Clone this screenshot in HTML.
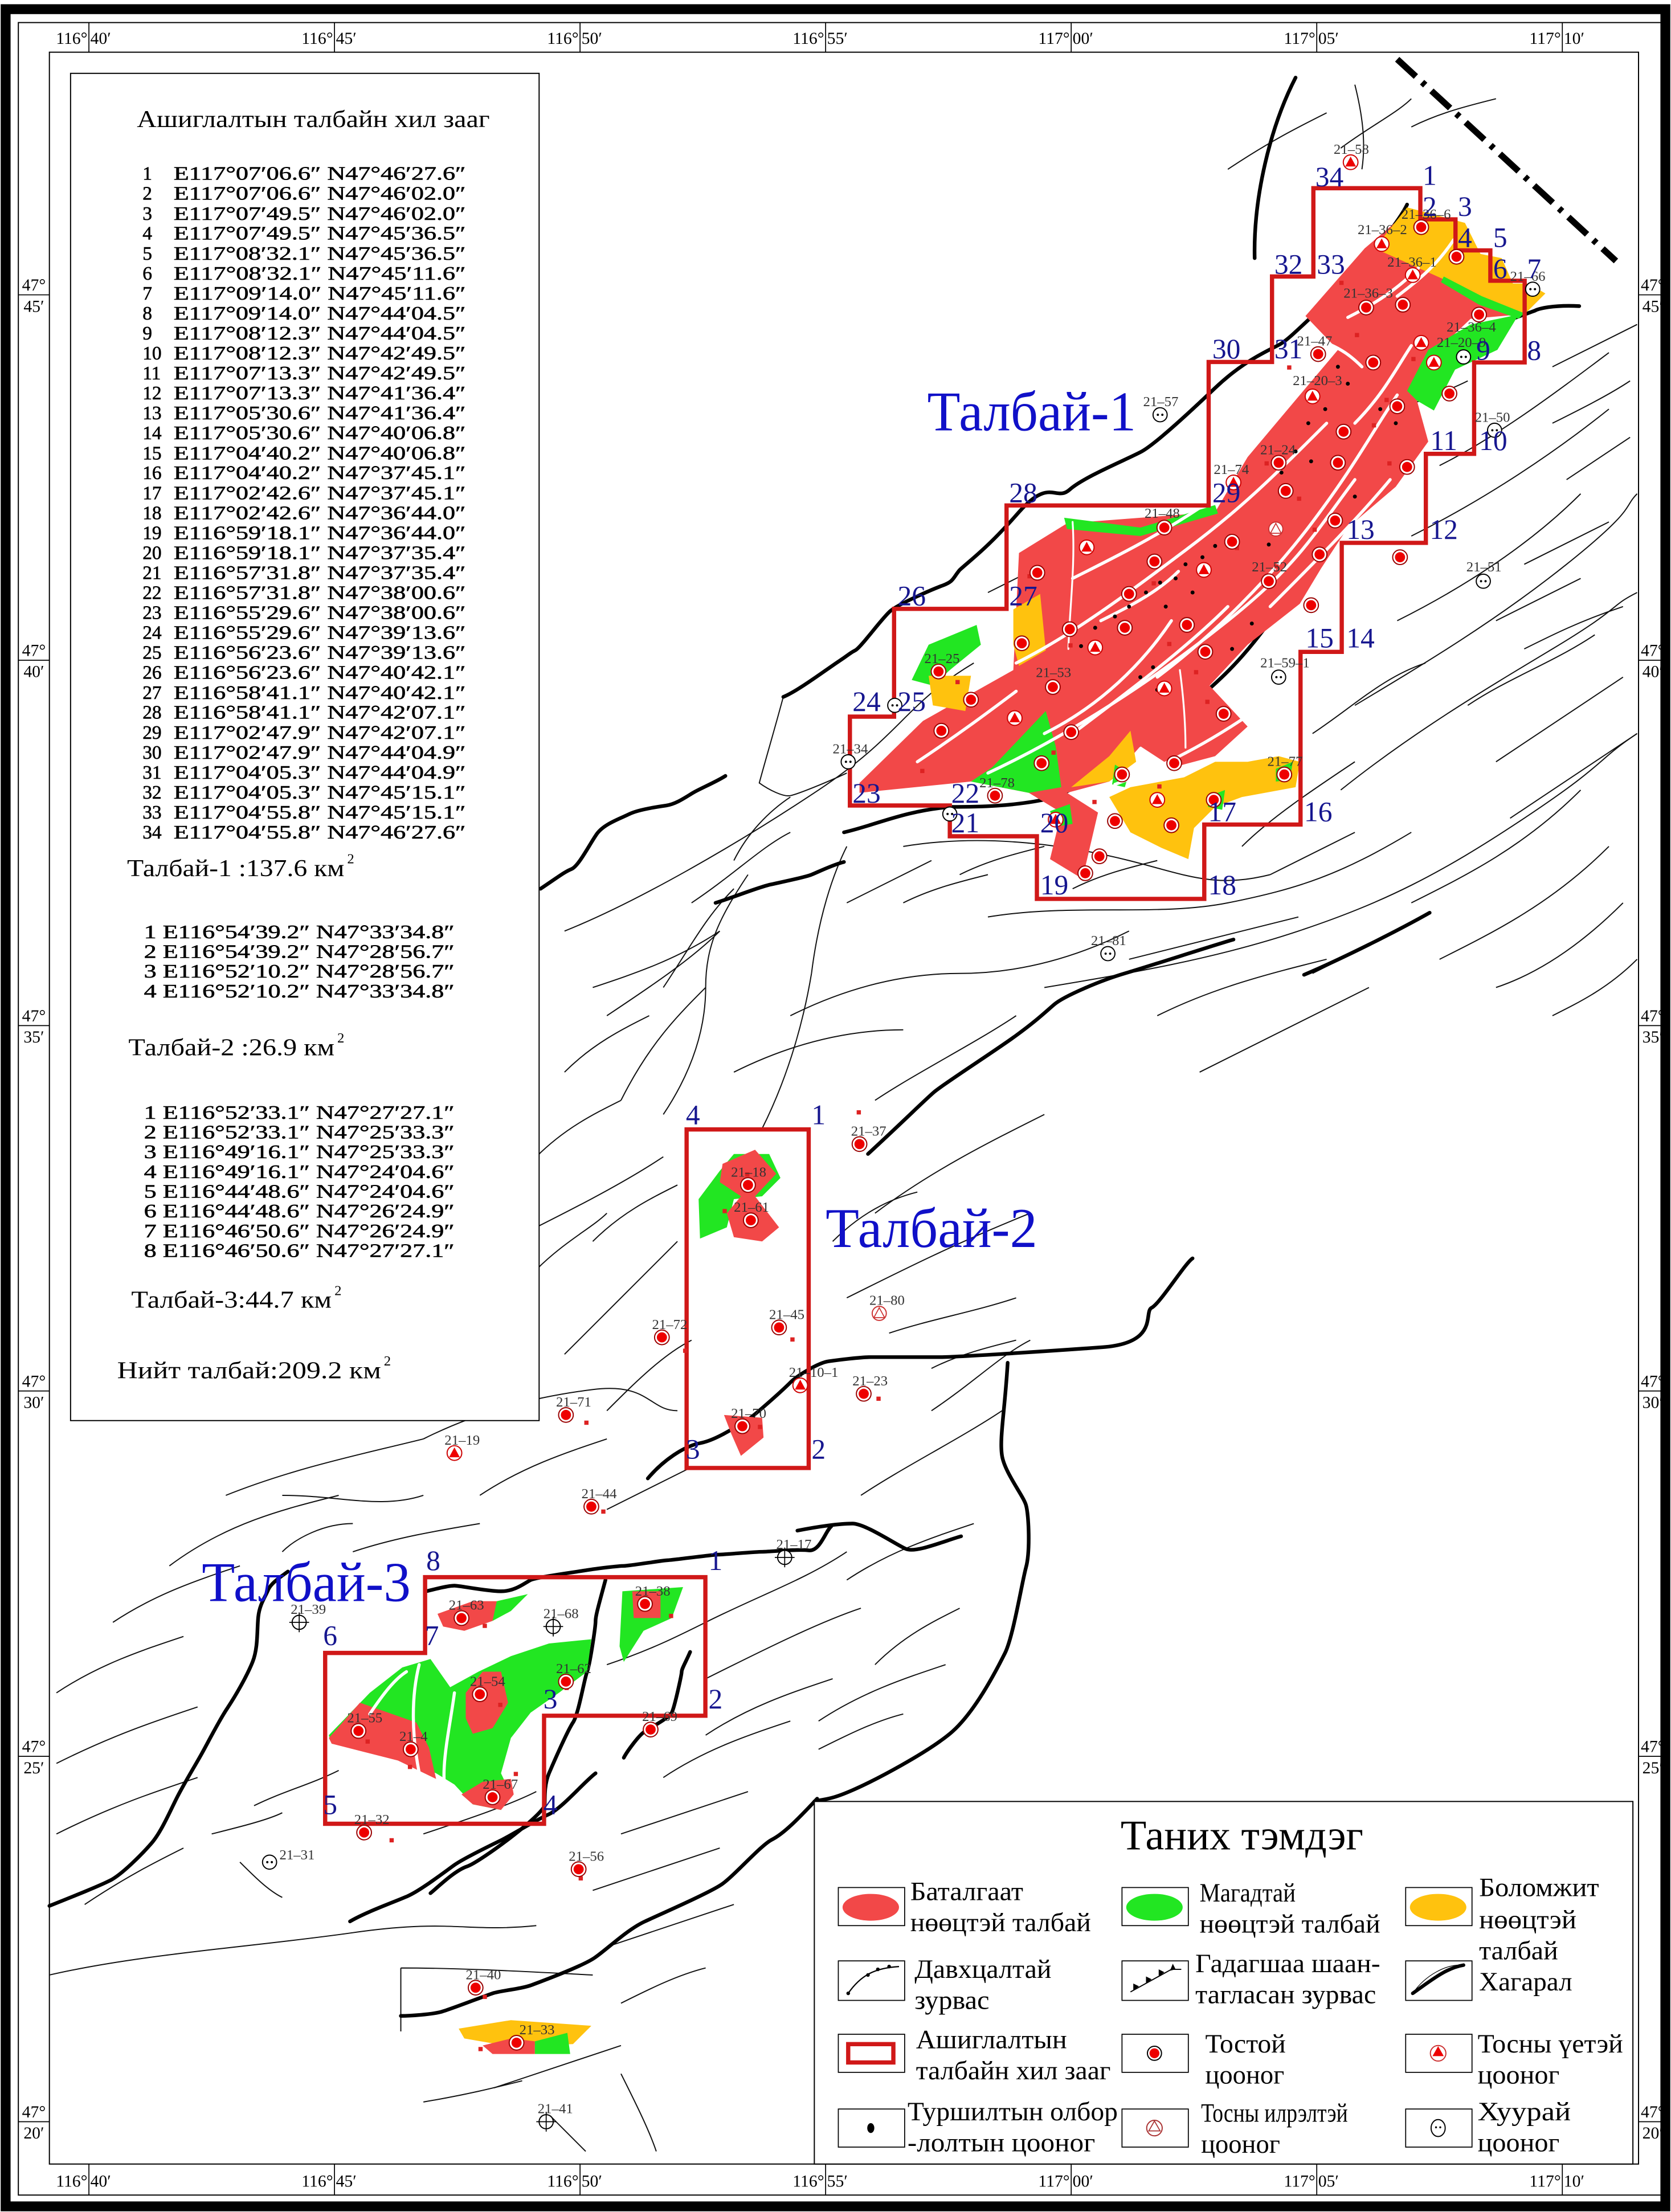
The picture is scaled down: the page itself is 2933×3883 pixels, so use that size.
<!DOCTYPE html>
<html><head><meta charset="utf-8"><style>
html,body{margin:0;padding:0;background:#fff}
svg{display:block}
text{font-family:"Liberation Serif",serif}
.vn{fill:#16168f;font-size:20px;text-anchor:middle}
.wl{fill:#333;font-size:10px}
.tk{font-size:12px;fill:#000}
.tb{font-size:13.5px;fill:#000;stroke:#000;stroke-width:.25}
.lg{font-size:19px;fill:#000}
.th{fill:none;stroke:#111;stroke-width:.8}
.bk{fill:none;stroke:#000;stroke-width:2.6;stroke-linejoin:round;stroke-linecap:round}
.wf{fill:none;stroke:#fff;stroke-width:2.2;stroke-linecap:round}
</style></head><body>
<svg width="2933" height="3883" viewBox="0 0 1184 1568" preserveAspectRatio="none" xmlns="http://www.w3.org/2000/svg">
<defs>
<g id="wo"><circle r="5.2" fill="#fff" stroke="#900" stroke-width=".8"/><circle r="3.6" fill="#e00"/></g>
<g id="wt"><circle r="5.2" fill="#fff" stroke="#c00" stroke-width=".8"/><path d="M0,-4 L3.8,3 L-3.8,3Z" fill="#e00"/></g>
<g id="wh"><circle r="5" fill="#fff" stroke="#000" stroke-width=".8"/><circle cx="-1.6" r=".8"/><circle cx="1.6" r=".8"/></g>
<g id="wx"><circle r="5" fill="#fff" stroke="#000" stroke-width=".8"/><path d="M-7,0H7M0,-7V7" stroke="#000" stroke-width=".7"/></g>
<g id="wa"><circle r="5" fill="#fff" stroke="#c33" stroke-width=".8"/><path d="M0,-4 L3.8,3 L-3.8,3Z" fill="none" stroke="#c33" stroke-width=".7"/></g>
</defs>

<rect x="4" y="6.5" width="1176" height="1557.5" fill="none" stroke="#000" stroke-width="7"/>
<rect x="13" y="16" width="1169" height="1540" fill="none" stroke="#000" stroke-width=".8"/>
<rect x="35" y="37" width="1126" height="1497" fill="none" stroke="#000" stroke-width=".8"/>

<g stroke="#000" stroke-width=".7">
<path d="M63,16V37M237,16V37M411,16V37M585,16V37M759,16V37M933,16V37M1107,16V37"/>
<path d="M63,1534V1556M237,1534V1556M411,1534V1556M585,1534V1556M759,1534V1556M933,1534V1556M1107,1534V1556"/>
<path d="M13,209H35M13,468H35M13,727H35M13,986H35M13,1245H35M13,1504H35"/>
<path d="M1161,209H1182M1161,468H1182M1161,727H1182M1161,986H1182M1161,1245H1182M1161,1504H1182"/>
</g>
<g class="tk">
<text x="62" y="31" text-anchor="end">116°</text><text x="64" y="31">40′</text>
<text x="236" y="31" text-anchor="end">116°</text><text x="238" y="31">45′</text>
<text x="410" y="31" text-anchor="end">116°</text><text x="412" y="31">50′</text>
<text x="584" y="31" text-anchor="end">116°</text><text x="586" y="31">55′</text>
<text x="758" y="31" text-anchor="end">117°</text><text x="760" y="31">00′</text>
<text x="932" y="31" text-anchor="end">117°</text><text x="934" y="31">05′</text>
<text x="1106" y="31" text-anchor="end">117°</text><text x="1108" y="31">10′</text>
<text x="62" y="1550" text-anchor="end">116°</text><text x="64" y="1550">40′</text>
<text x="236" y="1550" text-anchor="end">116°</text><text x="238" y="1550">45′</text>
<text x="410" y="1550" text-anchor="end">116°</text><text x="412" y="1550">50′</text>
<text x="584" y="1550" text-anchor="end">116°</text><text x="586" y="1550">55′</text>
<text x="758" y="1550" text-anchor="end">117°</text><text x="760" y="1550">00′</text>
<text x="932" y="1550" text-anchor="end">117°</text><text x="934" y="1550">05′</text>
<text x="1106" y="1550" text-anchor="end">117°</text><text x="1108" y="1550">10′</text>
</g>
<g class="tk" text-anchor="middle">
<text x="24" y="206">47°</text><text x="24" y="221">45′</text>
<text x="24" y="465">47°</text><text x="24" y="480">40′</text>
<text x="24" y="724">47°</text><text x="24" y="739">35′</text>
<text x="24" y="983">47°</text><text x="24" y="998">30′</text>
<text x="24" y="1242">47°</text><text x="24" y="1257">25′</text>
<text x="24" y="1501">47°</text><text x="24" y="1516">20′</text>
<text x="1171" y="206">47°</text><text x="1171" y="221">45′</text>
<text x="1171" y="465">47°</text><text x="1171" y="480">40′</text>
<text x="1171" y="724">47°</text><text x="1171" y="739">35′</text>
<text x="1171" y="983">47°</text><text x="1171" y="998">30′</text>
<text x="1171" y="1242">47°</text><text x="1171" y="1257">25′</text>
<text x="1171" y="1501">47°</text><text x="1171" y="1516">20′</text>
</g>

<g class="th">
<path d="M555,494 C548,520 542,540 538,555 C545,560 555,565 560,564 S585,555 600,548"/>
<path d="M400,660 C450,640 520,600 580,560 S640,500 690,470"/>
<path d="M520,610 C530,590 545,575 560,565"/>
<path d="M490,640 C520,620 540,600 560,590"/>
<path d="M470,700 C490,670 500,650 520,630"/>
<path d="M430,720 C460,700 490,680 510,660"/>
<path d="M560,720 C600,700 640,690 680,690 S760,680 800,660"/>
<path d="M600,640 C620,630 640,620 660,610"/>
<path d="M640,600 C700,590 760,600 800,610 S860,630 900,620"/>
<path d="M700,650 C760,640 820,650 870,640 S950,620 1000,590"/>
<path d="M740,700 C800,690 860,680 920,660 S1020,620 1080,580 S1130,540 1160,520"/>
<path d="M950,560 C1000,520 1050,490 1100,460 S1140,430 1160,420"/>
<path d="M960,500 C1010,470 1060,440 1110,400 S1150,360 1160,350"/>
<path d="M990,440 C1030,420 1080,390 1120,350"/>
<path d="M1000,380 C1040,360 1090,330 1140,290"/>
<path d="M1020,330 C1060,310 1100,280 1140,250"/>
<path d="M1100,260 C1120,250 1140,240 1160,230"/>
<path d="M930,520 C960,500 980,480 1010,470"/>
<path d="M880,600 C900,580 930,560 960,540"/>
<path d="M520,760 C560,740 600,730 640,730"/>
<path d="M540,800 C560,760 570,720 575,690"/>
<path d="M575,690 C580,650 590,620 600,600"/>
<path d="M470,790 C490,760 500,730 500,700 S510,650 530,620"/>
<path d="M440,780 C460,740 480,720 500,700"/>
<path d="M420,700 C450,690 480,680 510,660"/>
<path d="M400,760 C420,740 440,730 460,720"/>
<path d="M380,820 C400,800 420,790 440,780"/>
<path d="M620,780 C650,760 690,740 720,720"/>
<path d="M620,860 C660,830 700,810 740,790"/>
<path d="M600,920 C640,900 680,880 730,860"/>
<path d="M630,945 C660,935 690,930 720,920"/>
<path d="M590,880 C610,860 630,850 650,845"/>
<path d="M360,880 C400,860 440,840 470,820"/>
<path d="M420,880 C440,860 460,850 480,840"/>
<path d="M380,900 C400,880 420,870 430,860"/>
<path d="M400,960 C430,930 460,900 480,880"/>
<path d="M430,1000 C450,980 470,960 490,950"/>
<path d="M300,1020 C340,1000 380,990 420,985 S460,1000 480,1000"/>
<path d="M160,1060 C210,1040 260,1030 300,1020"/>
<path d="M120,1110 C160,1080 200,1070 240,1060"/>
<path d="M80,1150 C110,1130 140,1120 170,1110"/>
<path d="M40,1200 C70,1180 100,1170 130,1160"/>
<path d="M40,1250 C80,1230 110,1220 140,1210"/>
<path d="M40,1300 C80,1280 110,1270 140,1260"/>
<path d="M60,1350 C90,1330 110,1320 130,1310"/>
<path d="M35,1400 C100,1385 180,1380 250,1370 S330,1370 380,1365"/>
<path d="M200,1060 C240,1060 270,1070 300,1060"/>
<path d="M250,1100 C280,1090 310,1085 340,1080"/>
<path d="M200,1100 C210,1090 230,1080 250,1080"/>
<path d="M340,1060 C370,1040 400,1030 430,1020"/>
<path d="M430,1070 C450,1060 470,1050 490,1040"/>
<path d="M300,1300 C330,1290 360,1280 380,1270"/>
<path d="M180,1280 C200,1270 220,1265 240,1255"/>
<path d="M150,1300 C170,1295 190,1290 200,1285"/>
<path d="M170,1320 C180,1330 190,1340 200,1345"/>
<path d="M430,1180 C460,1170 480,1160 500,1150"/>
<path d="M500,1150 C540,1130 570,1120 600,1100"/>
<path d="M500,1190 C540,1170 580,1150 610,1140"/>
<path d="M500,1230 C530,1210 560,1200 590,1190"/>
<path d="M470,1260 C500,1240 530,1230 560,1220"/>
<path d="M440,1300 C470,1290 500,1280 530,1270"/>
<path d="M420,1340 C450,1330 480,1320 510,1310"/>
<path d="M430,1380 C460,1370 490,1360 520,1350"/>
<path d="M440,1420 C460,1410 480,1400 500,1395"/>
<path d="M350,1480 C380,1470 410,1460 440,1450"/>
<path d="M300,1490 C330,1485 350,1480 370,1475"/>
<path d="M390,1500 C400,1510 410,1520 415,1525"/>
<path d="M440,1470 C450,1490 460,1510 465,1525"/>
<path d="M284,1395 L284,1440 M284,1395 C330,1395 380,1398 420,1400"/>
<path d="M660,970 C680,960 700,955 720,950"/>
<path d="M660,1000 C690,980 710,960 730,950"/>
<path d="M610,1060 C640,1040 680,1020 710,1000"/>
<path d="M600,1120 C630,1100 660,1090 690,1080"/>
<path d="M620,1180 C640,1160 660,1150 680,1140"/>
<path d="M580,1220 C610,1200 640,1190 670,1180"/>
<path d="M580,1240 C600,1230 620,1220 640,1215"/>
<path d="M800,680 C840,670 880,660 920,650"/>
<path d="M760,630 C780,620 800,615 820,610"/>
<path d="M900,620 C920,610 940,600 960,590"/>
<path d="M1000,640 C1040,620 1080,600 1120,560"/>
<path d="M1020,680 C1060,660 1100,640 1140,600"/>
<path d="M1060,700 C1090,690 1120,670 1150,640"/>
<path d="M1100,720 C1120,710 1140,700 1160,680"/>
<path d="M930,690 C950,680 970,670 990,660"/>
<path d="M1040,500 C1070,480 1100,470 1130,450"/>
<path d="M1060,540 C1090,520 1120,500 1150,480"/>
<path d="M1070,580 C1100,560 1130,540 1160,520"/>
<path d="M980,260 C1010,250 1040,240 1070,230"/>
<path d="M960,300 C990,290 1020,280 1040,270"/>
<path d="M1100,300 C1120,290 1140,280 1155,270"/>
<path d="M1110,340 C1125,330 1140,320 1155,310"/>
<path d="M1080,400 C1100,390 1120,380 1140,370"/>
<path d="M1060,440 C1080,430 1100,420 1120,410"/>
<path d="M870,120 C900,100 920,90 940,80"/>
<path d="M950,105 C970,90 990,80 1000,70"/>
<path d="M960,60 C965,80 968,100 965,120"/>
<path d="M1000,90 C1020,80 1040,75 1060,70"/>
<path d="M640,640 C660,630 680,625 700,620"/>
<path d="M680,620 C700,610 720,605 740,600"/>
<path d="M820,720 C860,700 900,690 940,680"/>
<path d="M850,760 C890,740 930,720 970,700"/>
<path d="M1080,460 C1100,450 1120,440 1150,430"/>
<path d="M700,420 C720,410 740,400 760,390"/>
</g>

<g class="bk">
<path d="M383,630 C395,622 400,618 405,616 S418,598 423,591 S440,580 446,577 S465,572 472,571 S486,565 491,562 S508,554 514,550"/>
<path d="M555,494 C565,490 585,475 594,469 S602,463 606,461 S625,438 631,433 S660,418 668,415 S675,410 680,404 C690,395 700,388 722,363 S748,356 758,347 S800,325 809,320 S840,295 861,275 S900,248 907,244 S925,228 940,215 S990,160 997,145"/>
<path d="M889,183 C888,140 900,90 918,55"/>
<path d="M459,1048 C470,1035 485,1025 496,1023 S520,1012 526,1009 S555,985 560,980 S580,966 587,965 S610,962 617,962 S655,962 666,962 S740,958 781,955 S810,930 816,927 S840,895 845,892"/>
<path d="M615,818 C640,795 655,780 662,774 S705,745 720,734 S740,718 747,712 S780,695 797,690 S860,670 874,666"/>
<path d="M924,691 C950,680 990,660 1013,647"/>
<path d="M1119,217 C1100,216 1090,219 1088,220 S1065,228 1062,230 S1045,245 1041,248 S1025,262 1023,265 S1008,278 1003,281 S992,294 990,298 S980,315 977,320 S966,342 964,347 S948,372 943,378 S932,400 928,405 S910,428 907,430 C880,470 860,485 855,490 C820,520 780,550 748,565 C720,572 690,572 673,572 C640,575 620,585 598,590"/>
<path d="M598,611 C590,613 580,618 575,620 S555,625 546,627 S520,636 507,640"/>
<path d="M714,966 C712,1000 708,1020 710,1032 S725,1060 727,1067 S730,1100 727,1111 S718,1160 712,1172 S690,1215 673,1229 S620,1262 604,1269 S585,1275 577,1277"/>
<path d="M565,1085 C580,1082 595,1080 604,1080 S635,1095 642,1098 S670,1092 681,1089"/>
<path d="M302,1128 C310,1126 318,1124 322,1124 S345,1128 355,1128 S372,1122 376,1120 S410,1114 416,1113 S438,1110 442,1110 S470,1106 473,1106 S505,1102 509,1102 S535,1100 540,1100 S565,1098 573,1099 S585,1085 589,1082"/>
<path d="M429,1120 C425,1135 422,1145 422,1149 S418,1180 416,1185 S410,1215 406,1221 S392,1250 389,1257 S386,1272 386,1279 S340,1320 331,1323 S310,1338 305,1342"/>
<path d="M489,1171 C486,1178 483,1183 483,1185 S478,1210 476,1214 S460,1225 456,1228 S444,1242 442,1246"/>
<path d="M579,1275 C565,1290 555,1300 547,1304 S520,1330 511,1336 S470,1356 457,1362 S430,1382 421,1388 S385,1404 377,1407 S355,1411 349,1413 S320,1424 313,1426 S290,1429 284,1429"/>
<path d="M248,1362 C260,1355 280,1348 289,1344 S315,1327 322,1322 S350,1307 356,1304 S380,1290 389,1286 S415,1262 422,1257"/>
<path d="M35,1351 C55,1343 70,1337 78,1333 S100,1315 107,1307 S120,1285 125,1275 S138,1252 143,1243 S155,1220 161,1211 S175,1188 179,1178 S182,1155 183,1146 S188,1132 190,1127 S200,1117 204,1114"/>
</g>

<path d="M990,42 L1145,185" stroke="#000" stroke-width="4.5" stroke-dasharray="18,6,3,6" fill="none"/>

<polygon fill="#f24848" points="609,555 654,511 718,475 722,392 756,371 861,363 884,324 921,280 948,248 925,224 967,176 993,154 1012,151 1038,176 1076,223 1042,226 1023,244 1004,284 1012,313 989,345 955,374 936,403 921,428 884,457 857,486 884,515 861,536 831,544 808,529 786,554 756,562 778,576 767,623 744,609 752,576 729,562 688,554 609,562"/>
<polygon fill="#ffc20e" points="974,176 997,147 1012,151 1038,158 1049,180 1064,183 1072,201 1083,201 1095,208 1080,223 1050,212 1023,198"/>
<polygon fill="#22e622" points="1023,196 1050,210 1080,222 1076,226 1048,216 1021,200"/>
<polygon fill="#22e622" points="997,277 1012,248 1042,230 1076,223 1061,248 1031,262 1016,291 1004,284"/>
<polygon fill="#22e622" points="754,367 808,374 861,358 863,364 808,380 756,375"/>
<polygon fill="#ffc20e" points="718,432 737,421 741,461 722,472 718,457"/>
<polygon fill="#22e622" points="646,482 658,457 692,443 695,457 673,475 661,486"/>
<polygon fill="#ffc20e" points="658,479 688,479 684,504 661,500"/>
<polygon fill="#22e622" points="688,554 703,544 741,504 748,529 752,558 729,562"/>
<polygon fill="#ffc20e" points="801,558 839,551 861,540 884,540 906,536 921,540 918,558 880,565 861,572 846,587 842,609 823,601 801,590 786,565"/>
<polygon fill="#ffc20e" points="759,558 786,536 801,518 805,540 786,554"/>
<polygon fill="#22e622" points="790,542 800,548 797,558 788,556"/>
<polygon fill="#22e622" points="904,545 916,540 914,553 904,554"/>
<polygon fill="#22e622" points="855,565 868,560 866,574 856,572"/>
<polygon fill="#22e622" points="744,575 758,570 760,584 748,586"/>
<g class="wf">
<path d="M700,548 C760,520 820,480 870,440 S930,380 960,340"/>
<path d="M760,520 C800,490 840,460 870,430"/>
<path d="M720,470 C760,450 800,420 840,390 S900,340 940,300"/>
<path d="M740,520 C780,500 810,470 830,440"/>
<path d="M820,480 C860,450 900,410 930,370 S970,310 990,280"/>
<path d="M900,430 C930,400 960,370 985,340"/>
<path d="M780,440 C800,430 820,420 835,405"/>
<path d="M760,410 C790,395 820,380 850,360"/>
<path d="M790,556 C820,545 850,530 880,510"/>
<path d="M960,300 C980,280 990,260 1000,245"/>
<path d="M955,225 C975,215 990,205 1005,190"/>
<path d="M990,210 C1010,195 1020,185 1030,170"/>
<path d="M760,370 C762,400 758,430 757,460" stroke-width="1.3"/>
<path d="M840,530 C840,510 838,490 836,475" stroke-width="1.3"/>
<path d="M930,240 C950,245 960,255 965,260"/>
<path d="M650,540 C680,520 700,505 720,490"/>
</g>

<polygon fill="#22e622" points="495,850 510,830 520,818 545,818 553,835 540,848 520,850 515,870 496,878"/>
<polygon fill="#f24848" points="512,825 535,815 550,832 535,848 552,870 540,880 520,877 515,860 525,848 510,838"/>
<polygon fill="#f24848" points="513,1003 540,1005 541,1019 525,1032 518,1016"/>

<polygon fill="#22e622" points="233,1230 262,1200 285,1182 305,1176 319,1196 339,1185 362,1174 389,1165 419,1162 416,1185 396,1200 376,1214 362,1232 355,1257 362,1272 355,1283 335,1279 322,1265 309,1257 282,1246 255,1239 235,1236"/>
<polygon fill="#f24848" points="233,1232 255,1207 295,1221 304,1239 309,1261 282,1248 235,1236"/>
<polygon fill="#f24848" points="330,1200 342,1185 355,1185 360,1207 349,1225 335,1229 330,1218"/>
<polygon fill="#f24848" points="327,1272 342,1263 362,1261 364,1272 355,1283 335,1279"/>
<polygon fill="#f24848" points="310,1144 335,1135 355,1135 349,1149 329,1156 314,1153"/>
<polygon fill="#22e622" points="352,1135 374,1130 362,1142 349,1149"/>
<polygon fill="#22e622" points="441,1128 484,1125 476,1147 456,1156 442,1178 439,1167"/>
<polygon fill="#f24848" points="448,1128 468,1128 468,1147 449,1147"/>
<polygon fill="#ffc20e" points="325,1438 362,1432 419,1436 406,1449 382,1450 352,1449 329,1445"/>
<polygon fill="#f24848" points="342,1450 362,1445 379,1447 379,1456 349,1456"/>
<polygon fill="#22e622" points="379,1447 402,1441 404,1456 379,1456"/>
<g class="wf" stroke-width="1.6">
<path d="M297,1180 C292,1200 290,1230 300,1270"/>
<path d="M322,1200 C318,1230 310,1260 318,1280"/>
<path d="M262,1215 C272,1200 280,1190 288,1185"/>
</g>

<g fill="none" stroke="#d01818" stroke-width="3">
<polygon points="930.6,133.4 1006.4,133.4 1006.4,155.5 1031.3,155.5 1031.3,177.5 1056,177.5 1056,199 1080.3,199 1080.3,256.9 1044.5,256.9 1044.5,321.7 1010.3,321.7 1010.3,384.8 950.7,384.8 950.7,462.1 921.5,462.1 921.5,584.5 853.3,584.5 853.3,637.2 734.7,637.2 734.7,592.8 673,592.8 673,571 602.2,571 602.2,508 633.5,508 633.5,431.6 713.2,431.6 713.2,358.3 856.4,358.3 856.4,256.6 901.3,256.6 901.3,196 930.6,196"/>
<polygon points="486.5,800.6 573,800.6 573,1040.6 486.5,1040.6"/>
<polygon points="301.2,1118 499.8,1118 499.8,1216.2 385.5,1216.2 385.5,1292.8 230.4,1292.8 230.4,1171.7 301.2,1171.7"/>
</g>

<g fill="#d22">
<rect x="949" y="199" width="3" height="3"/><rect x="960" y="236" width="3" height="3"/><rect x="977" y="172" width="3" height="3"/>
<rect x="912" y="259" width="3" height="3"/><rect x="981" y="282" width="3" height="3"/><rect x="1000" y="253" width="3" height="3"/>
<rect x="896" y="327" width="3" height="3"/><rect x="972" y="300" width="3" height="3"/><rect x="983" y="327" width="3" height="3"/>
<rect x="919" y="352" width="3" height="3"/><rect x="930" y="374" width="3" height="3"/><rect x="875" y="387" width="3" height="3"/>
<rect x="728" y="407" width="3" height="3"/><rect x="816" y="412" width="3" height="3"/><rect x="903" y="400" width="3" height="3"/>
<rect x="757" y="456" width="3" height="3"/><rect x="827" y="455" width="3" height="3"/><rect x="846" y="475" width="3" height="3"/>
<rect x="854" y="496" width="3" height="3"/><rect x="677" y="482" width="3" height="3"/><rect x="652" y="545" width="3" height="3"/>
<rect x="745" y="532" width="3" height="3"/><rect x="820" y="556" width="3" height="3"/><rect x="774" y="567" width="3" height="3"/>
<rect x="989" y="395" width="3" height="3"/><rect x="528" y="831" width="3" height="3"/><rect x="512" y="857" width="3" height="3"/>
<rect x="607" y="787" width="3" height="3"/><rect x="484" y="956" width="3" height="3"/><rect x="560" y="948" width="3" height="3"/>
<rect x="621" y="990" width="3" height="3"/><rect x="414" y="1007" width="3" height="3"/><rect x="537" y="1010" width="3" height="3"/>
<rect x="426" y="1070" width="3" height="3"/><rect x="342" y="1151" width="3" height="3"/><rect x="474" y="1144" width="3" height="3"/>
<rect x="259" y="1233" width="3" height="3"/><rect x="289" y="1251" width="3" height="3"/><rect x="353" y="1207" width="3" height="3"/>
<rect x="364" y="1256" width="3" height="3"/><rect x="400" y="1195" width="3" height="3"/><rect x="276" y="1303" width="3" height="3"/>
<rect x="410" y="1330" width="3" height="3"/><rect x="342" y="1414" width="3" height="3"/><rect x="339" y="1451" width="3" height="3"/>
</g>
<g fill="#000">
<circle cx="948" cy="260" r="1.4"/><circle cx="955" cy="272" r="1.4"/><circle cx="939" cy="290" r="1.4"/><circle cx="927" cy="300" r="1.4"/>
<circle cx="918" cy="320" r="1.4"/><circle cx="908" cy="335" r="1.4"/><circle cx="978" cy="290" r="1.4"/><circle cx="989" cy="300" r="1.4"/>
<circle cx="861" cy="387" r="1.4"/><circle cx="852" cy="395" r="1.4"/><circle cx="840" cy="400" r="1.4"/><circle cx="833" cy="410" r="1.4"/>
<circle cx="822" cy="413" r="1.4"/><circle cx="812" cy="420" r="1.4"/><circle cx="800" cy="430" r="1.4"/><circle cx="790" cy="437" r="1.4"/>
<circle cx="845" cy="420" r="1.4"/><circle cx="826" cy="430" r="1.4"/><circle cx="776" cy="445" r="1.4"/><circle cx="766" cy="458" r="1.4"/>
<circle cx="817" cy="473" r="1.4"/><circle cx="808" cy="480" r="1.4"/><circle cx="820" cy="489" r="1.4"/><circle cx="887" cy="442" r="1.4"/>
<circle cx="873" cy="460" r="1.4"/><circle cx="899" cy="386" r="1.4"/><circle cx="929" cy="327" r="1.4"/><circle cx="960" cy="352" r="1.4"/>
</g>

<g>
<use href="#wt" x="957" y="115"/><use href="#wo" x="1007" y="161"/><use href="#wt" x="979" y="173"/><use href="#wo" x="1032" y="182"/>
<use href="#wt" x="1001" y="195"/><use href="#wh" x="1086" y="205"/><use href="#wo" x="968" y="218"/><use href="#wo" x="994" y="216"/>
<use href="#wo" x="1048" y="223"/><use href="#wt" x="1007" y="243"/><use href="#wo" x="934" y="251"/><use href="#wo" x="973" y="257"/>
<use href="#wt" x="1016" y="257"/><use href="#wh" x="1037" y="253"/><use href="#wt" x="930" y="281"/><use href="#wo" x="990" y="288"/>
<use href="#wo" x="1027" y="279"/><use href="#wh" x="822" y="294"/><use href="#wo" x="952" y="306"/><use href="#wo" x="906" y="328"/>
<use href="#wo" x="948" y="328"/><use href="#wo" x="997" y="331"/><use href="#wt" x="874" y="342"/><use href="#wo" x="911" y="348"/>
<use href="#wh" x="1059" y="305"/><use href="#wo" x="825" y="374"/><use href="#wa" x="904" y="375"/><use href="#wo" x="946" y="369"/>
<use href="#wo" x="873" y="384"/><use href="#wo" x="935" y="393"/><use href="#wo" x="992" y="395"/><use href="#wt" x="770" y="388"/>
<use href="#wo" x="818" y="398"/><use href="#wt" x="853" y="404"/><use href="#wo" x="735" y="406"/><use href="#wh" x="1051" y="412"/>
<use href="#wo" x="899" y="412"/><use href="#wo" x="800" y="421"/><use href="#wo" x="929" y="429"/><use href="#wo" x="758" y="446"/>
<use href="#wo" x="797" y="445"/><use href="#wo" x="841" y="443"/><use href="#wo" x="724" y="456"/><use href="#wt" x="776" y="459"/>
<use href="#wo" x="854" y="462"/><use href="#wh" x="906" y="480"/><use href="#wo" x="665" y="476"/><use href="#wo" x="746" y="487"/>
<use href="#wt" x="825" y="488"/><use href="#wo" x="688" y="496"/><use href="#wh" x="634" y="500"/><use href="#wt" x="719" y="509"/>
<use href="#wo" x="867" y="506"/><use href="#wo" x="667" y="518"/><use href="#wo" x="759" y="519"/><use href="#wh" x="601" y="540"/>
<use href="#wo" x="738" y="541"/><use href="#wo" x="832" y="541"/><use href="#wo" x="795" y="549"/><use href="#wo" x="910" y="549"/>
<use href="#wo" x="705" y="564"/><use href="#wt" x="820" y="567"/><use href="#wo" x="860" y="567"/><use href="#wo" x="830" y="585"/>
<use href="#wh" x="673" y="577"/><use href="#wt" x="748" y="581"/><use href="#wo" x="790" y="582"/><use href="#wo" x="779" y="607"/>
<use href="#wo" x="769" y="619"/><use href="#wh" x="785" y="676"/>
<use href="#wo" x="609" y="811"/><use href="#wo" x="530" y="840"/><use href="#wo" x="532" y="865"/><use href="#wa" x="623" y="931"/>
<use href="#wo" x="469" y="948"/><use href="#wo" x="552" y="941"/><use href="#wt" x="567" y="982"/><use href="#wo" x="612" y="988"/>
<use href="#wo" x="401" y="1003"/><use href="#wo" x="526" y="1011"/><use href="#wt" x="322" y="1030"/><use href="#wo" x="419" y="1068"/>
<use href="#wx" x="556" y="1104"/><use href="#wx" x="212" y="1150"/><use href="#wo" x="327" y="1147"/><use href="#wx" x="392" y="1153"/>
<use href="#wo" x="457" y="1137"/><use href="#wo" x="401" y="1192"/><use href="#wo" x="340" y="1201"/><use href="#wo" x="254" y="1227"/>
<use href="#wo" x="461" y="1226"/><use href="#wo" x="291" y="1240"/><use href="#wo" x="349" y="1274"/><use href="#wo" x="258" y="1299"/>
<use href="#wh" x="191" y="1320"/><use href="#wo" x="410" y="1325"/><use href="#wo" x="337" y="1409"/><use href="#wo" x="366" y="1448"/>
<use href="#wx" x="387" y="1504"/>
</g>
<g class="wl">
<text x="945" y="109">21–58</text><text x="993" y="155">21–36–6</text><text x="962" y="166">21–36–2</text><text x="983" y="189">21–36–1</text>
<text x="1070" y="199">21–66</text><text x="952" y="211">21–36–3</text><text x="1025" y="235">21–36–4</text><text x="919" y="245">21–47</text>
<text x="1018" y="246">21–20–9</text><text x="916" y="273">21–20–3</text><text x="810" y="288">21–57</text><text x="1045" y="299">21–50</text>
<text x="893" y="322">21–24</text><text x="860" y="336">21–74</text><text x="811" y="367">21–48</text><text x="1039" y="405">21–51</text>
<text x="887" y="405">21–52</text><text x="893" y="473">21–59–1</text><text x="655" y="470">21–25</text><text x="734" y="480">21–53</text>
<text x="590" y="534">21–34</text><text x="694" y="558">21–78</text><text x="898" y="543">21–77</text><text x="773" y="670">21–81</text>
<text x="603" y="805">21–37</text><text x="518" y="834">21–18</text><text x="520" y="859">21–61</text><text x="616" y="925">21–80</text>
<text x="462" y="942">21–72</text><text x="545" y="935">21–45</text><text x="559" y="976">21–10–1</text><text x="604" y="982">21–23</text>
<text x="394" y="997">21–71</text><text x="518" y="1005">21–70</text><text x="315" y="1024">21–19</text><text x="412" y="1062">21–44</text>
<text x="550" y="1098">21–17</text><text x="206" y="1144">21–39</text><text x="318" y="1141">21–63</text><text x="385" y="1147">21–68</text>
<text x="450" y="1131">21–38</text><text x="394" y="1186">21–62</text><text x="333" y="1195">21–54</text><text x="246" y="1221">21–55</text>
<text x="455" y="1220">21–69</text><text x="283" y="1234">21–4</text><text x="342" y="1268">21–67</text><text x="251" y="1293">21–32</text>
<text x="198" y="1318">21–31</text><text x="403" y="1319">21–56</text><text x="330" y="1403">21–40</text><text x="368" y="1442">21–33</text>
<text x="381" y="1498">21–41</text>
</g>

<g class="vn">
<text x="942" y="132">34</text><text x="1013" y="131">1</text><text x="1013" y="153">2</text><text x="1038" y="153">3</text>
<text x="1038" y="175">4</text><text x="1063" y="175">5</text><text x="1063" y="197">6</text><text x="1087" y="197">7</text>
<text x="1087" y="255">8</text><text x="1051" y="255">9</text><text x="1058" y="319">10</text><text x="1023" y="319">11</text>
<text x="1023" y="382">12</text><text x="964" y="382">13</text><text x="964" y="459">14</text><text x="935" y="459">15</text>
<text x="934" y="582">16</text><text x="866" y="582">17</text><text x="866" y="634">18</text><text x="747" y="634">19</text>
<text x="747" y="590">20</text><text x="684" y="590">21</text><text x="684" y="569">22</text><text x="614" y="569">23</text>
<text x="614" y="504">24</text><text x="646" y="504">25</text><text x="646" y="429">26</text><text x="725" y="429">27</text>
<text x="725" y="356">28</text><text x="869" y="356">29</text><text x="869" y="254">30</text><text x="913" y="254">31</text>
<text x="913" y="194">32</text><text x="943" y="194">33</text>
<text x="491" y="797">4</text><text x="580" y="797">1</text><text x="580" y="1034">2</text><text x="491" y="1034">3</text>
<text x="307" y="1113">8</text><text x="507" y="1113">1</text><text x="507" y="1211">2</text><text x="390" y="1211">3</text>
<text x="390" y="1286">4</text><text x="234" y="1286">5</text><text x="234" y="1166">6</text><text x="306" y="1166">7</text>
</g>
<g fill="#1010c8" font-size="40">
<text x="657" y="305" textLength="148" lengthAdjust="spacingAndGlyphs">Талбай-1</text>
<text x="585" y="884" textLength="150" lengthAdjust="spacingAndGlyphs">Талбай-2</text>
<text x="143" y="1135" textLength="148" lengthAdjust="spacingAndGlyphs">Талбай-3</text>
</g>

<rect x="50" y="52" width="332" height="955" fill="#fff" stroke="#000" stroke-width=".8"/>
<text x="222" y="90" font-size="17" text-anchor="middle" textLength="250" lengthAdjust="spacingAndGlyphs">Ашиглалтын талбайн хил зааг</text>
<g class="tb">
<text x="101" y="127.5">1</text><text x="123" y="127.5" textLength="207" lengthAdjust="spacingAndGlyphs">E117°07′06.6″ N47°46′27.6″</text>
<text x="101" y="141.6">2</text><text x="123" y="141.6" textLength="207" lengthAdjust="spacingAndGlyphs">E117°07′06.6″ N47°46′02.0″</text>
<text x="101" y="155.8">3</text><text x="123" y="155.8" textLength="207" lengthAdjust="spacingAndGlyphs">E117°07′49.5″ N47°46′02.0″</text>
<text x="101" y="169.9">4</text><text x="123" y="169.9" textLength="207" lengthAdjust="spacingAndGlyphs">E117°07′49.5″ N47°45′36.5″</text>
<text x="101" y="184.1">5</text><text x="123" y="184.1" textLength="207" lengthAdjust="spacingAndGlyphs">E117°08′32.1″ N47°45′36.5″</text>
<text x="101" y="198.2">6</text><text x="123" y="198.2" textLength="207" lengthAdjust="spacingAndGlyphs">E117°08′32.1″ N47°45′11.6″</text>
<text x="101" y="212.4">7</text><text x="123" y="212.4" textLength="207" lengthAdjust="spacingAndGlyphs">E117°09′14.0″ N47°45′11.6″</text>
<text x="101" y="226.5">8</text><text x="123" y="226.5" textLength="207" lengthAdjust="spacingAndGlyphs">E117°09′14.0″ N47°44′04.5″</text>
<text x="101" y="240.7">9</text><text x="123" y="240.7" textLength="207" lengthAdjust="spacingAndGlyphs">E117°08′12.3″ N47°44′04.5″</text>
<text x="101" y="254.8">10 <tspan x="123" textLength="207" lengthAdjust="spacingAndGlyphs">E117°08′12.3″ N47°42′49.5″</tspan></text>
<text x="101" y="269">11 <tspan x="123" textLength="207" lengthAdjust="spacingAndGlyphs">E117°07′13.3″ N47°42′49.5″</tspan></text>
<text x="101" y="283.1">12 <tspan x="123" textLength="207" lengthAdjust="spacingAndGlyphs">E117°07′13.3″ N47°41′36.4″</tspan></text>
<text x="101" y="297.3">13 <tspan x="123" textLength="207" lengthAdjust="spacingAndGlyphs">E117°05′30.6″ N47°41′36.4″</tspan></text>
<text x="101" y="311.4">14 <tspan x="123" textLength="207" lengthAdjust="spacingAndGlyphs">E117°05′30.6″ N47°40′06.8″</tspan></text>
<text x="101" y="325.6">15 <tspan x="123" textLength="207" lengthAdjust="spacingAndGlyphs">E117°04′40.2″ N47°40′06.8″</tspan></text>
<text x="101" y="339.7">16 <tspan x="123" textLength="207" lengthAdjust="spacingAndGlyphs">E117°04′40.2″ N47°37′45.1″</tspan></text>
<text x="101" y="353.9">17 <tspan x="123" textLength="207" lengthAdjust="spacingAndGlyphs">E117°02′42.6″ N47°37′45.1″</tspan></text>
<text x="101" y="368">18 <tspan x="123" textLength="207" lengthAdjust="spacingAndGlyphs">E117°02′42.6″ N47°36′44.0″</tspan></text>
<text x="101" y="382.2">19 <tspan x="123" textLength="207" lengthAdjust="spacingAndGlyphs">E116°59′18.1″ N47°36′44.0″</tspan></text>
<text x="101" y="396.3">20 <tspan x="123" textLength="207" lengthAdjust="spacingAndGlyphs">E116°59′18.1″ N47°37′35.4″</tspan></text>
<text x="101" y="410.5">21 <tspan x="123" textLength="207" lengthAdjust="spacingAndGlyphs">E116°57′31.8″ N47°37′35.4″</tspan></text>
<text x="101" y="424.6">22 <tspan x="123" textLength="207" lengthAdjust="spacingAndGlyphs">E116°57′31.8″ N47°38′00.6″</tspan></text>
<text x="101" y="438.8">23 <tspan x="123" textLength="207" lengthAdjust="spacingAndGlyphs">E116°55′29.6″ N47°38′00.6″</tspan></text>
<text x="101" y="452.9">24 <tspan x="123" textLength="207" lengthAdjust="spacingAndGlyphs">E116°55′29.6″ N47°39′13.6″</tspan></text>
<text x="101" y="467.1">25 <tspan x="123" textLength="207" lengthAdjust="spacingAndGlyphs">E116°56′23.6″ N47°39′13.6″</tspan></text>
<text x="101" y="481.2">26 <tspan x="123" textLength="207" lengthAdjust="spacingAndGlyphs">E116°56′23.6″ N47°40′42.1″</tspan></text>
<text x="101" y="495.4">27 <tspan x="123" textLength="207" lengthAdjust="spacingAndGlyphs">E116°58′41.1″ N47°40′42.1″</tspan></text>
<text x="101" y="509.5">28 <tspan x="123" textLength="207" lengthAdjust="spacingAndGlyphs">E116°58′41.1″ N47°42′07.1″</tspan></text>
<text x="101" y="523.7">29 <tspan x="123" textLength="207" lengthAdjust="spacingAndGlyphs">E117°02′47.9″ N47°42′07.1″</tspan></text>
<text x="101" y="537.8">30 <tspan x="123" textLength="207" lengthAdjust="spacingAndGlyphs">E117°02′47.9″ N47°44′04.9″</tspan></text>
<text x="101" y="552">31 <tspan x="123" textLength="207" lengthAdjust="spacingAndGlyphs">E117°04′05.3″ N47°44′04.9″</tspan></text>
<text x="101" y="566.1">32 <tspan x="123" textLength="207" lengthAdjust="spacingAndGlyphs">E117°04′05.3″ N47°45′15.1″</tspan></text>
<text x="101" y="580.3">33 <tspan x="123" textLength="207" lengthAdjust="spacingAndGlyphs">E117°04′55.8″ N47°45′15.1″</tspan></text>
<text x="101" y="594.4">34 <tspan x="123" textLength="207" lengthAdjust="spacingAndGlyphs">E117°04′55.8″ N47°46′27.6″</tspan></text>
</g>
<text x="90" y="621" font-size="17" textLength="154" lengthAdjust="spacingAndGlyphs">Талбай-1 :137.6 км</text><text x="246" y="612" font-size="10">2</text>
<g class="tb">
<text x="102" y="665" textLength="220" lengthAdjust="spacingAndGlyphs">1 E116°54′39.2″ N47°33′34.8″</text>
<text x="102" y="679" textLength="220" lengthAdjust="spacingAndGlyphs">2 E116°54′39.2″ N47°28′56.7″</text>
<text x="102" y="693" textLength="220" lengthAdjust="spacingAndGlyphs">3 E116°52′10.2″ N47°28′56.7″</text>
<text x="102" y="707" textLength="220" lengthAdjust="spacingAndGlyphs">4 E116°52′10.2″ N47°33′34.8″</text>
<text x="102" y="793" textLength="220" lengthAdjust="spacingAndGlyphs">1 E116°52′33.1″ N47°27′27.1″</text>
<text x="102" y="807" textLength="220" lengthAdjust="spacingAndGlyphs">2 E116°52′33.1″ N47°25′33.3″</text>
<text x="102" y="821" textLength="220" lengthAdjust="spacingAndGlyphs">3 E116°49′16.1″ N47°25′33.3″</text>
<text x="102" y="835" textLength="220" lengthAdjust="spacingAndGlyphs">4 E116°49′16.1″ N47°24′04.6″</text>
<text x="102" y="849" textLength="220" lengthAdjust="spacingAndGlyphs">5 E116°44′48.6″ N47°24′04.6″</text>
<text x="102" y="863" textLength="220" lengthAdjust="spacingAndGlyphs">6 E116°44′48.6″ N47°26′24.9″</text>
<text x="102" y="877" textLength="220" lengthAdjust="spacingAndGlyphs">7 E116°46′50.6″ N47°26′24.9″</text>
<text x="102" y="891" textLength="220" lengthAdjust="spacingAndGlyphs">8 E116°46′50.6″ N47°27′27.1″</text>
</g>
<text x="91" y="748" font-size="17" textLength="146" lengthAdjust="spacingAndGlyphs">Талбай-2 :26.9 км</text><text x="239" y="739" font-size="10">2</text>
<text x="93" y="927" font-size="17" textLength="142" lengthAdjust="spacingAndGlyphs">Талбай-3:44.7 км</text><text x="237" y="918" font-size="10">2</text>
<text x="83" y="977" font-size="17" textLength="187" lengthAdjust="spacingAndGlyphs">Нийт талбай:209.2 км</text><text x="272" y="968" font-size="10">2</text>

<rect x="577" y="1277" width="580" height="257" fill="#fff" stroke="#000" stroke-width=".8"/>
<text x="880" y="1311" font-size="30" text-anchor="middle" textLength="172" lengthAdjust="spacingAndGlyphs">Таних тэмдэг</text>
<g fill="#fff" stroke="#000" stroke-width=".7">
<rect x="594" y="1338" width="47" height="27"/><rect x="795" y="1338" width="47" height="27"/><rect x="996" y="1338" width="47" height="27"/>
<rect x="594" y="1390" width="47" height="28"/><rect x="795" y="1390" width="47" height="28"/><rect x="996" y="1390" width="47" height="28"/>
<rect x="594" y="1442" width="47" height="27"/><rect x="795" y="1442" width="47" height="27"/><rect x="996" y="1442" width="47" height="27"/>
<rect x="594" y="1495" width="47" height="27"/><rect x="795" y="1495" width="47" height="27"/><rect x="996" y="1495" width="47" height="27"/>
</g>
<ellipse cx="617" cy="1352" rx="20" ry="9.5" fill="#f24848"/>
<ellipse cx="818" cy="1352" rx="20" ry="9.5" fill="#22e622"/>
<ellipse cx="1019" cy="1352" rx="20" ry="9.5" fill="#ffc20e"/>
<path d="M601,1413 C610,1400 620,1395 637,1394" fill="none" stroke="#000" stroke-width=".9"/>
<circle cx="601" cy="1413" r="1.3"/><circle cx="615" cy="1400" r="1.3"/><circle cx="622" cy="1396" r="1.3"/><circle cx="630" cy="1394" r="1.3"/>
<path d="M801,1412 L830,1396 L837,1396" fill="none" stroke="#000" stroke-width=".8"/>
<path d="M803,1411 l0,-5 l4,2Z M812,1406 l0,-5 l4,2Z M821,1401 l0,-5 l4,2Z M829,1397 l2,-5 l2,4Z"/>
<path d="M1001,1413 C1015,1403 1025,1395 1037,1393" fill="none" stroke="#000" stroke-width="2.5" stroke-linecap="round"/>
<path d="M1001,1413 C1010,1400 1025,1392 1037,1393" fill="none" stroke="#000" stroke-width=".5"/>
<rect x="601" y="1449" width="32" height="13" fill="none" stroke="#d01818" stroke-width="3"/>
<circle cx="818" cy="1455.5" r="5" fill="#fff" stroke="#000" stroke-width=".8"/><circle cx="818" cy="1455.5" r="3.5" fill="#e00"/>
<circle cx="1019" cy="1455.5" r="5.5" fill="#fff" stroke="#c33" stroke-width=".8"/><path d="M1019,1450.5 L1023,1457.5 L1015,1457.5Z" fill="#e00"/>
<ellipse cx="617" cy="1508.5" rx="2.5" ry="3.5"/>
<circle cx="818" cy="1508.5" r="5.5" fill="none" stroke="#a33" stroke-width=".8"/><path d="M818,1503.5 L822,1510.5 L814,1510.5Z" fill="none" stroke="#a33" stroke-width=".7"/>
<ellipse cx="1019" cy="1508.5" rx="5" ry="6" fill="none" stroke="#000" stroke-width=".8"/><circle cx="1017.5" cy="1508" r=".7"/><circle cx="1020.5" cy="1508" r=".7"/>
<g class="lg">
<text x="645" y="1347" textLength="80" lengthAdjust="spacingAndGlyphs">Баталгаат</text>
<text x="645" y="1369" textLength="128" lengthAdjust="spacingAndGlyphs">нөөцтэй талбай</text>
<text x="850" y="1348" textLength="68" lengthAdjust="spacingAndGlyphs">Магадтай</text>
<text x="850" y="1370" textLength="128" lengthAdjust="spacingAndGlyphs">нөөцтэй талбай</text>
<text x="1048" y="1344" textLength="85" lengthAdjust="spacingAndGlyphs">Боломжит</text>
<text x="1048" y="1367" textLength="69" lengthAdjust="spacingAndGlyphs">нөөцтэй</text>
<text x="1048" y="1389" textLength="56" lengthAdjust="spacingAndGlyphs">талбай</text>
<text x="648" y="1402" textLength="97" lengthAdjust="spacingAndGlyphs">Давхцалтай</text>
<text x="648" y="1424" textLength="53" lengthAdjust="spacingAndGlyphs">зурвас</text>
<text x="847" y="1398" textLength="131" lengthAdjust="spacingAndGlyphs">Гадагшаа шаан-</text>
<text x="847" y="1420" textLength="128" lengthAdjust="spacingAndGlyphs">тагласан зурвас</text>
<text x="1048" y="1411" textLength="66" lengthAdjust="spacingAndGlyphs">Хагарал</text>
<text x="649" y="1452" textLength="107" lengthAdjust="spacingAndGlyphs">Ашиглалтын</text>
<text x="649" y="1474" textLength="138" lengthAdjust="spacingAndGlyphs">талбайн хил зааг</text>
<text x="854" y="1455" textLength="57" lengthAdjust="spacingAndGlyphs">Тостой</text>
<text x="854" y="1477" textLength="56" lengthAdjust="spacingAndGlyphs">цооног</text>
<text x="1047" y="1455" textLength="103" lengthAdjust="spacingAndGlyphs">Тосны үетэй</text>
<text x="1047" y="1477" textLength="58" lengthAdjust="spacingAndGlyphs">цооног</text>
<text x="643" y="1503" textLength="149" lengthAdjust="spacingAndGlyphs">Туршилтын олбор</text>
<text x="643" y="1525" textLength="133" lengthAdjust="spacingAndGlyphs">-лолтын цооног</text>
<text x="851" y="1504" textLength="104" lengthAdjust="spacingAndGlyphs">Тосны илрэлтэй</text>
<text x="851" y="1526" textLength="56" lengthAdjust="spacingAndGlyphs">цооног</text>
<text x="1047" y="1503" textLength="66" lengthAdjust="spacingAndGlyphs">Хуурай</text>
<text x="1047" y="1525" textLength="58" lengthAdjust="spacingAndGlyphs">цооног</text>
</g>
</svg>
</body></html>
